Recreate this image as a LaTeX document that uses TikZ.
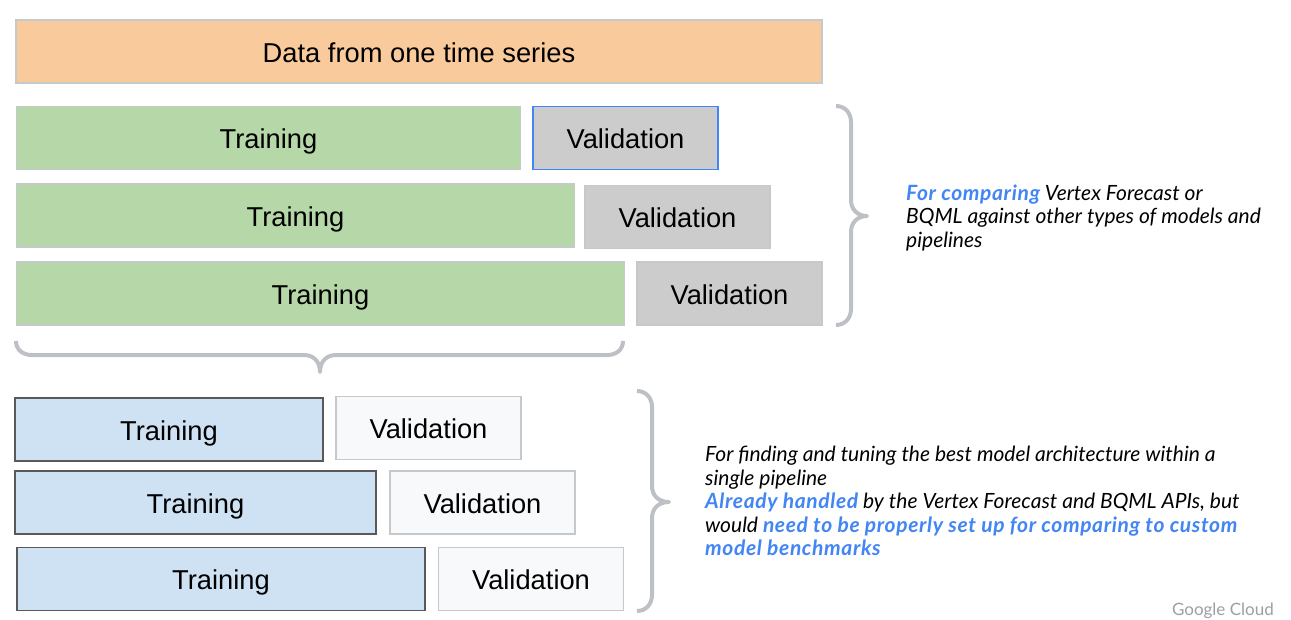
\documentclass[tikz,border=0pt]{standalone}
\usepackage{fontspec}
\setmainfont{Liberation Sans}
\newfontfamily\notefont{Lato}
\newfontfamily\hilitefont[LetterSpace=3]{Lato}
\definecolor{seriesfill}{HTML}{F9CB9C}
\definecolor{trainfill}{HTML}{B6D7A8}
\definecolor{valfill}{HTML}{CCCCCC}
\definecolor{innerfill}{HTML}{CFE2F3}
\definecolor{paperfill}{HTML}{F8F9FA}
\definecolor{edgegrey}{HTML}{BDC1C6}
\definecolor{boxedge}{HTML}{C6C9CC}
\definecolor{edgedark}{HTML}{595959}
\definecolor{accent}{HTML}{4285F4}
\definecolor{logogrey}{HTML}{9AA0A6}
\tikzset{
    box/.style={rectangle, draw=boxedge, line width=1.3pt, inner sep=0pt, outer sep=0pt, minimum height=63pt, text height=24.5pt, text depth=3.5pt, anchor=north west, font=\fontsize{27.3}{32}\selectfont, text=black},
    trainbox/.style={box, fill=trainfill},
    valbox/.style={box, fill=valfill, minimum width=185pt},
    innertrain/.style={box, fill=innerfill, draw=edgedark},
    innerval/.style={box, fill=paperfill, minimum width=185pt},
    curly/.style={draw=edgegrey, line width=4pt, line join=round},
    note/.style={anchor=north west, inner sep=0pt, align=left, font=\notefont\itshape\fontsize{21}{23.5}\selectfont},
}
\newcommand{\hilite}[1]{{\hilitefont\itshape\bfseries\color{accent}#1}}

\begin{document}
\begin{tikzpicture}[x=1pt, y=-1pt]
    \useasboundingbox[fill=white] (0,0) rectangle (1291,619);

    \node[box, fill=seriesfill, minimum width=806pt] (series) at (16,20) {Data from one time series};

    \node[trainbox, minimum width=504pt] (trainA) at (16.5,106.5) {Training};
    \node[valbox, draw=accent] (valA) at (533,106.5) {Validation};
    \node[trainbox, minimum width=558pt] (trainB) at (16.5,184) {Training};
    \node[valbox] (valB) at (585,185.5) {Validation};
    \node[trainbox, minimum width=608pt] (trainC) at (16.5,262) {Training};
    \node[valbox] (valC) at (637,262) {Validation};

    \node[innertrain, minimum width=308pt] (innerA) at (15,398) {Training};
    \node[innerval] (checkA) at (336,396.5) {Validation};
    \node[innertrain, minimum width=361pt] (innerB) at (15,471) {Training};
    \node[innerval] (checkB) at (390,471) {Validation};
    \node[innertrain, minimum width=408pt] (innerC) at (17,547.5) {Training};
    \node[innerval] (checkC) at (438.5,547.5) {Validation};

    % braces
    \coordinate (outerTop) at (836,106);
    \coordinate (outerEnd) at (836,325);
    \coordinate (underL) at (16,341);
    \coordinate (underR) at (623,341);
    \coordinate (innerTop) at (637,391);
    \coordinate (innerEnd) at (637,611);
    \draw[curly] (outerTop) .. controls (845,106) and (851,113) .. (851,122) -- (851,200)
        .. controls (851,209) and (857,216) .. (867,216) .. controls (857,216) and (851,223) .. (851,232)
        -- (851,309) .. controls (851,318) and (845,325) .. (outerEnd);
    \draw[curly] (underL) .. controls (16,350) and (23,355) .. (32,355) -- (304,355)
        .. controls (313,355) and (320,361) .. (320,372) .. controls (320,361) and (327,355) .. (336,355)
        -- (607,355) .. controls (616,355) and (623,350) .. (underR);
    \draw[curly] (innerTop) .. controls (646,391) and (652,398) .. (652,407) -- (652,486)
        .. controls (652,495) and (658,502) .. (669,502) .. controls (658,502) and (652,509) .. (652,518)
        -- (652,595) .. controls (652,604) and (646,611) .. (innerEnd);

    \node[note] (noteOuter) at (906,184.5) {\hilite{For comparing} Vertex Forecast or\\BQML against other types of models and\\pipelines};
    \node[note] (noteInner) at (705,446) {For finding and tuning the best model architecture within a\\single pipeline\\\hilite{Already handled} by the Vertex Forecast and BQML APIs, but\\would \hilite{need to be properly set up for comparing to custom}\\\hilite{model benchmarks}};

    \node[anchor=east, inner sep=0pt, text=logogrey, font=\notefont\fontsize{17}{20}\selectfont] (logo) at (1274,611) {Google Cloud};
\end{tikzpicture}
\end{document}
